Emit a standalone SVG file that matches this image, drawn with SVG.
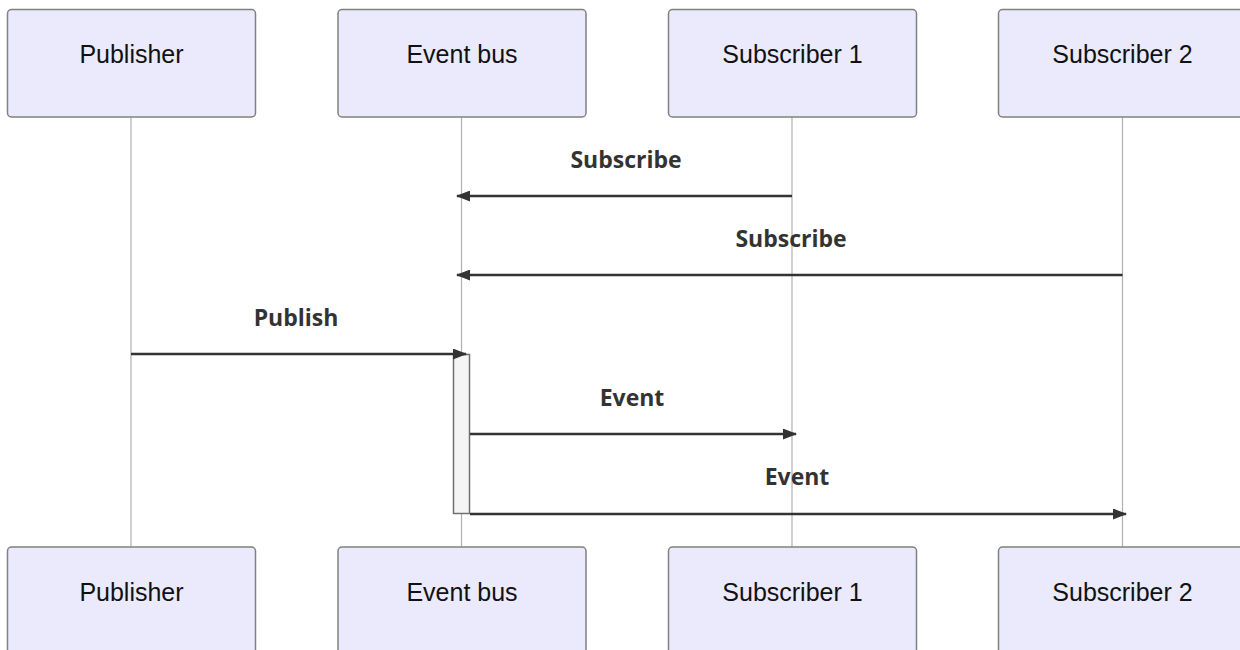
<svg xmlns="http://www.w3.org/2000/svg" width="1240" height="650" viewBox="0 0 1240 650">
  <style>
    .actor rect { fill: #eaeafc; stroke: #808080; stroke-width: 1.5; }
    .actor text { font-family: "Liberation Sans", Arial, sans-serif; font-size: 25px; fill: #111; text-anchor: middle; }
    .life { stroke: #b0b0b0; stroke-width: 1.2; }
    .msg { stroke: #333; stroke-width: 2.5; fill: none; }
    .lbl { font-family: "Open Sans", "DejaVu Sans", sans-serif; font-weight: bold; font-size: 23px; fill: #333; text-anchor: middle; }
    .act { fill: #f4f4f4; stroke: #707070; stroke-width: 1.5; }
  </style>
  <defs>
    <marker id="head" viewBox="0 0 14 11" refX="13" refY="5.5" markerWidth="14" markerHeight="11" markerUnits="userSpaceOnUse" orient="auto">
      <path d="M0,0 L14,5.5 L0,11 Z" fill="#333"/>
    </marker>
  </defs>

  <!-- lifelines -->
  <g id="lifelines">
    <line class="life" x1="131" y1="117" x2="131" y2="547"/>
    <line class="life" x1="461.5" y1="117" x2="461.5" y2="547"/>
    <line class="life" x1="792" y1="117" x2="792" y2="547"/>
    <line class="life" x1="1122.5" y1="117" x2="1122.5" y2="547"/>
  </g>

  <!-- actors, top row -->
  <g id="publisher-top" class="actor"><rect x="7.5" y="9.5" width="248" height="107.5" rx="4"/><text x="131.5" y="63">Publisher</text></g>
  <g id="eventbus-top" class="actor"><rect x="338" y="9.5" width="248" height="107.5" rx="4"/><text x="462" y="63">Event bus</text></g>
  <g id="sub1-top" class="actor"><rect x="668.5" y="9.5" width="248" height="107.5" rx="4"/><text x="792.5" y="63">Subscriber 1</text></g>
  <g id="sub2-top" class="actor"><rect x="998.5" y="9.5" width="248" height="107.5" rx="4"/><text x="1122.5" y="63">Subscriber 2</text></g>

  <!-- actors, bottom row -->
  <g id="publisher-bottom" class="actor"><rect x="7.5" y="547" width="248" height="107.5" rx="4"/><text x="131.5" y="601">Publisher</text></g>
  <g id="eventbus-bottom" class="actor"><rect x="338" y="547" width="248" height="107.5" rx="4"/><text x="462" y="601">Event bus</text></g>
  <g id="sub1-bottom" class="actor"><rect x="668.5" y="547" width="248" height="107.5" rx="4"/><text x="792.5" y="601">Subscriber 1</text></g>
  <g id="sub2-bottom" class="actor"><rect x="998.5" y="547" width="248" height="107.5" rx="4"/><text x="1122.5" y="601">Subscriber 2</text></g>

  <!-- activation on Event bus -->
  <g id="activation">
    <rect class="act" x="453.5" y="354.5" width="16" height="159"/>
  </g>

  <!-- messages -->
  <g id="connectors">
    <line class="msg" x1="792" y1="196" x2="457" y2="196" marker-end="url(#head)"/>
    <text class="lbl" x="626" y="168">Subscribe</text>

    <line class="msg" x1="1122.5" y1="275" x2="457" y2="275" marker-end="url(#head)"/>
    <text class="lbl" x="791" y="247">Subscribe</text>

    <line class="msg" x1="131" y1="354" x2="466" y2="354" marker-end="url(#head)"/>
    <text class="lbl" x="296" y="326">Publish</text>

    <line class="msg" x1="470" y1="434" x2="796" y2="434" marker-end="url(#head)"/>
    <text class="lbl" x="632" y="406">Event</text>

    <line class="msg" x1="470" y1="514" x2="1126" y2="514" marker-end="url(#head)"/>
    <text class="lbl" x="797" y="485">Event</text>
  </g>
</svg>
